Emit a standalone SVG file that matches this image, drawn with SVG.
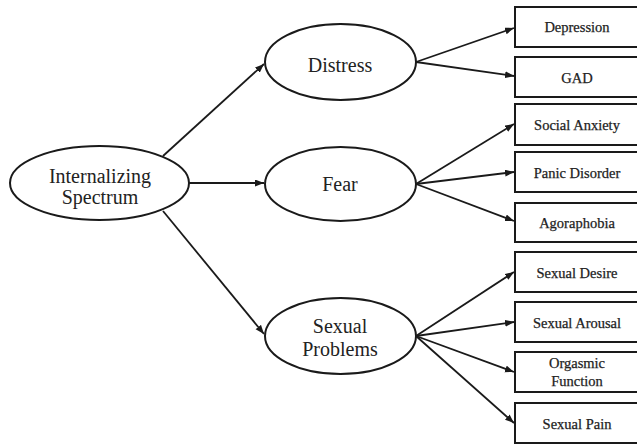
<svg xmlns="http://www.w3.org/2000/svg" width="637" height="444" viewBox="0 0 637 444">
<style>
.el{fill:#fff;stroke:#1a1a1a;stroke-width:2}
.bx{fill:#fff;stroke:#1a1a1a;stroke-width:2}
.t1{font-size:20px;fill:#222;text-anchor:middle}
.t2{font-size:14.5px;fill:#222;text-anchor:middle;stroke:#222;stroke-width:0.25}
.ln{stroke:#1a1a1a;stroke-width:1.8;fill:none;marker-end:url(#ah)}
</style>
<defs>
<marker id="ah" markerUnits="userSpaceOnUse" markerWidth="10" markerHeight="8" refX="9" refY="3.5" orient="auto">
<path d="M0,0 L9,3.5 L0,7 z" fill="#1a1a1a"/>
</marker>
</defs>
<rect width="637" height="444" fill="#fff"/>
<g id="connectors">
<line class="ln" x1="163" y1="156" x2="264" y2="64"/>
<line class="ln" x1="189" y1="183" x2="264" y2="183"/>
<line class="ln" x1="163" y1="211" x2="264" y2="334"/>
<line class="ln" x1="416" y1="62" x2="514" y2="28"/>
<line class="ln" x1="416" y1="62" x2="514" y2="76"/>
<line class="ln" x1="416" y1="184" x2="514" y2="124"/>
<line class="ln" x1="416" y1="184" x2="514" y2="172"/>
<line class="ln" x1="416" y1="184" x2="514" y2="221"/>
<line class="ln" x1="416" y1="336" x2="514" y2="272"/>
<line class="ln" x1="416" y1="336" x2="514" y2="322"/>
<line class="ln" x1="416" y1="336" x2="514" y2="372"/>
<line class="ln" x1="416" y1="336" x2="514" y2="423"/>
</g>
<g font-family="Liberation Serif, Times New Roman, DejaVu Serif, serif">
<g id="internalizing">
<ellipse class="el" cx="99.5" cy="183" rx="89.5" ry="37"/>
<text class="t1" x="100" y="183">Internalizing</text>
<text class="t1" x="100" y="204">Spectrum</text>
</g>
<g id="distress">
<ellipse class="el" cx="340.5" cy="62" rx="75.5" ry="38"/>
<text class="t1" x="340" y="72">Distress</text>
</g>
<g id="fear">
<ellipse class="el" cx="340.5" cy="184" rx="75.5" ry="37"/>
<text class="t1" x="340" y="191">Fear</text>
</g>
<g id="sexual-problems">
<ellipse class="el" cx="340.5" cy="336" rx="75.5" ry="38"/>
<text class="t1" x="340" y="333">Sexual</text>
<text class="t1" x="340" y="356">Problems</text>
</g>
<g id="depression">
<rect class="bx" x="515" y="7" width="130" height="40"/>
<text class="t2" x="577" y="32">Depression</text>
</g>
<g id="gad">
<rect class="bx" x="515" y="57" width="130" height="40"/>
<text class="t2" x="577" y="83">GAD</text>
</g>
<g id="social-anxiety">
<rect class="bx" x="515" y="104" width="130" height="41"/>
<text class="t2" x="577" y="130">Social Anxiety</text>
</g>
<g id="panic-disorder">
<rect class="bx" x="515" y="152" width="130" height="40"/>
<text class="t2" x="577" y="178">Panic Disorder</text>
</g>
<g id="agoraphobia">
<rect class="bx" x="515" y="203" width="130" height="39"/>
<text class="t2" x="577" y="228">Agoraphobia</text>
</g>
<g id="sexual-desire">
<rect class="bx" x="515" y="252" width="130" height="40"/>
<text class="t2" x="577" y="278">Sexual Desire</text>
</g>
<g id="sexual-arousal">
<rect class="bx" x="515" y="302" width="130" height="40"/>
<text class="t2" x="577" y="328">Sexual Arousal</text>
</g>
<g id="orgasmic-function">
<rect class="bx" x="515" y="352" width="130" height="40"/>
<text class="t2" x="577" y="368">Orgasmic</text>
<text class="t2" x="577" y="386">Function</text>
</g>
<g id="sexual-pain">
<rect class="bx" x="515" y="403" width="130" height="40"/>
<text class="t2" x="577" y="429">Sexual Pain</text>
</g>
</g>
</svg>
